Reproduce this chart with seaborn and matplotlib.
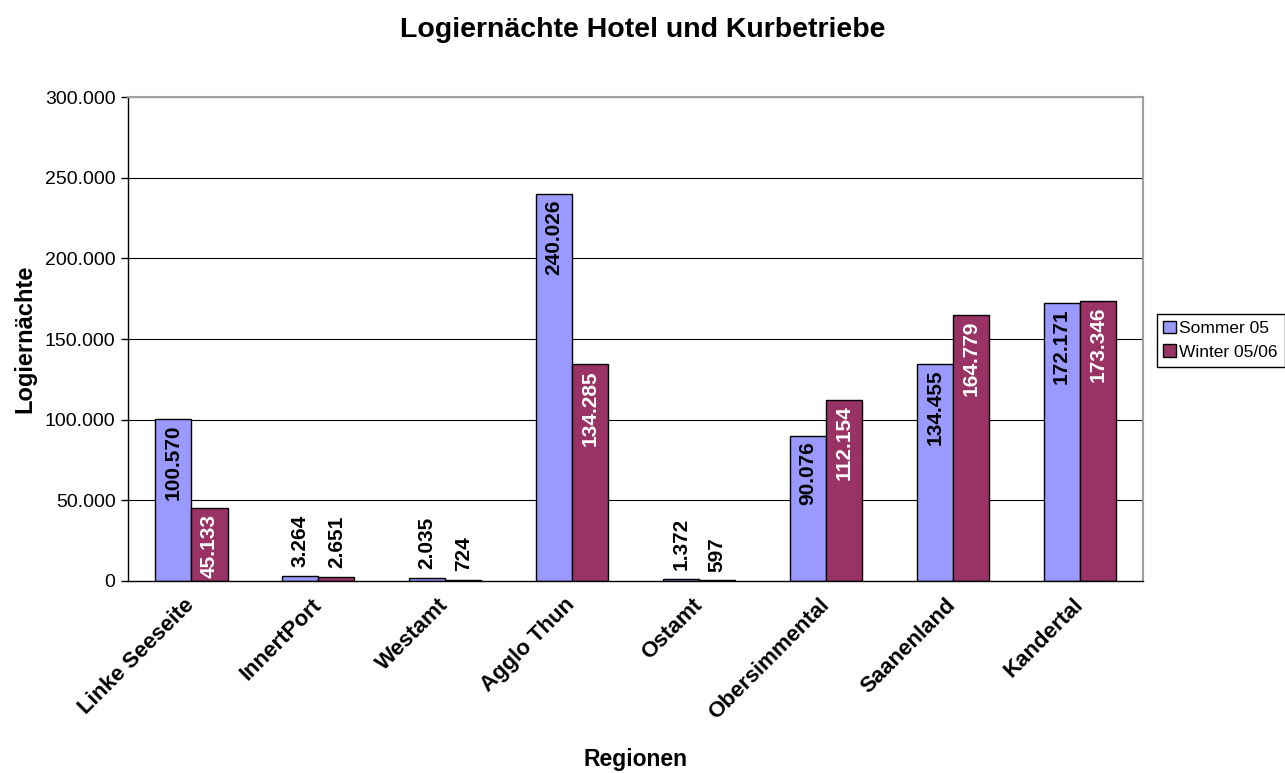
import matplotlib
matplotlib.use("Agg")
import matplotlib.pyplot as plt
import seaborn as sns
import pandas as pd

regions = ["Linke Seeseite", "InnertPort", "Westamt", "Agglo Thun",
           "Ostamt", "Obersimmental", "Saanenland", "Kandertal"]
sommer = [100570, 3264, 2035, 240026, 1372, 90076, 134455, 172171]
winter = [45133, 2651, 724, 134285, 597, 112154, 164779, 173346]
series = ["Sommer 05", "Winter 05/06"]
y_ticks = [0, 50000, 100000, 150000, 200000, 250000, 300000]


def de_fmt(v):
    # German thousands separator
    return f"{v:,}".replace(",", ".")


df = pd.DataFrame({
    "Region": regions * 2,
    "Serie": [series[0]] * len(regions) + [series[1]] * len(regions),
    "Logiernächte": sommer + winter,
})

sns.set_style("white")
plt.rcParams["font.family"] = ["Liberation Sans", "DejaVu Sans"]
for key in ["text.color", "axes.labelcolor", "xtick.color", "ytick.color"]:
    plt.rcParams[key] = "black"

fig = plt.figure(figsize=(12.85, 7.73), dpi=100)
ax = fig.add_axes([0.0996, 0.2484, 0.790, 0.626])

sns.barplot(data=df, x="Region", y="Logiernächte", hue="Serie",
            palette=["#9999FF", "#993366"], width=0.57, gap=0,
            edgecolor="black", linewidth=1, saturation=1,
            errorbar=None, ax=ax)

ax.set_ylim(0, 300000)
ax.set_xlim(-0.5, len(regions) - 0.5)
ax.set_yticks(y_ticks)
ax.set_yticklabels([de_fmt(v) for v in y_ticks], fontsize=14)
for v in y_ticks[1:]:
    ax.axhline(v, color="black", lw=0.8, zorder=0)

# bar value labels: inside (top) for tall bars, above for small ones
text_cols = ["black", "white"]
for i, cont in enumerate(ax.containers):
    for bar in cont:
        h = bar.get_height()
        xc = bar.get_x() + bar.get_width() / 2
        if h > 20000:
            ax.annotate(de_fmt(int(round(h))), (xc, h), xytext=(0, -4),
                        textcoords="offset points", rotation=90,
                        ha="center", va="top", fontsize=15,
                        fontweight="bold", color=text_cols[i])
        else:
            ax.annotate(de_fmt(int(round(h))), (xc, h), xytext=(0, 6),
                        textcoords="offset points", rotation=90,
                        ha="center", va="bottom", fontsize=15,
                        fontweight="bold", color="black")

# category ticks: labels at centers, tick marks at boundaries
ax.set_xticks(range(len(regions)))
ax.set_xticklabels(regions, rotation=45, ha="right", va="center",
                   rotation_mode="anchor", fontsize=16, fontweight="bold")
ax.tick_params(axis="x", which="major", length=0, pad=15)
ax.set_xticks([k - 0.5 for k in range(len(regions) + 1)], minor=True)
ax.tick_params(axis="x", which="minor", length=5, width=1, color="black",
               direction="out")
ax.tick_params(axis="y", length=5, width=1, color="black", pad=4,
               direction="out", left=True)

for side in ["left", "bottom"]:
    ax.spines[side].set_color("black")
    ax.spines[side].set_linewidth(1)
for side in ["top", "right"]:
    ax.spines[side].set_visible(True)
    ax.spines[side].set_color("#A0A0A0")
    ax.spines[side].set_linewidth(1.5)

ax.set_xlabel("Regionen", fontsize=16.5, fontweight="bold")
ax.xaxis.set_label_coords(0.5, -0.345)
ax.set_ylabel("Logiernächte", fontsize=17, fontweight="bold")
ax.yaxis.set_label_coords(-0.09, 0.5)

fig.suptitle("Logiernächte Hotel und Kurbetriebe", fontsize=20.5,
             fontweight="bold", x=0.5, y=0.978)

handles, labels = ax.get_legend_handles_labels()
ax.legend(handles, labels, loc="center left", bbox_to_anchor=(0.9, 0.56),
          bbox_transform=fig.transFigure, frameon=True, fancybox=False,
          edgecolor="black", framealpha=1, fontsize=12.5,
          handlelength=0.7, handleheight=0.7, handletextpad=0.2,
          borderpad=0.4, borderaxespad=0, labelspacing=0.5)
ax.get_legend().get_frame().set_linewidth(1)

fig.savefig("out.png", dpi=100)
